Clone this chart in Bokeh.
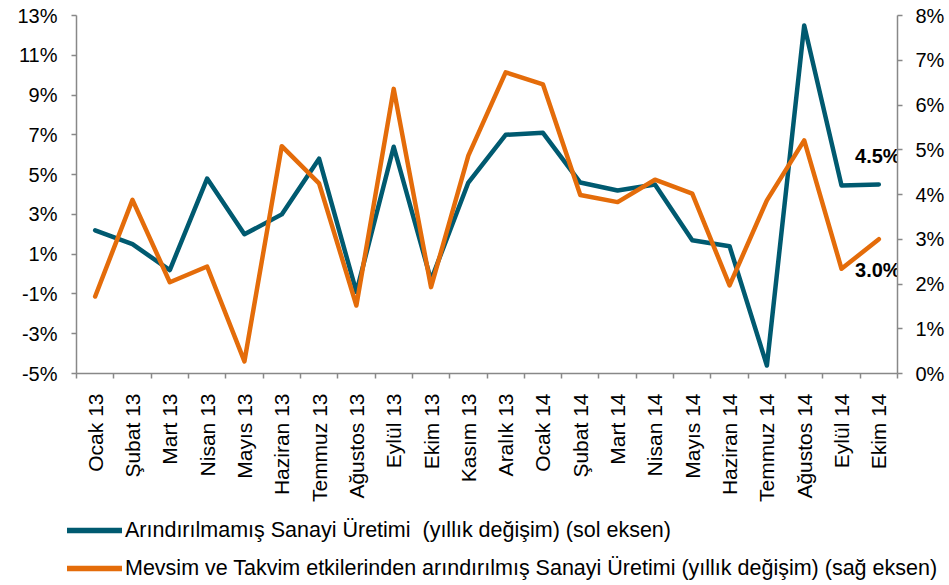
import math
from bokeh.plotting import figure
from bokeh.layouts import column
from bokeh.models import (Range1d, LinearAxis, FixedTicker, PrintfTickFormatter,
                          CustomJSTickFormatter, Legend, LegendItem)
from bokeh.core.properties import value
from bokeh.embed import file_html
from bokeh.resources import INLINE

months = ["Ocak 13", "Şubat 13", "Mart 13", "Nisan 13", "Mayıs 13", "Haziran 13",
          "Temmuz 13", "Ağustos 13", "Eylül 13", "Ekim 13", "Kasım 13", "Aralık 13",
          "Ocak 14", "Şubat 14", "Mart 14", "Nisan 14", "Mayıs 14", "Haziran 14",
          "Temmuz 14", "Ağustos 14", "Eylül 14", "Ekim 14"]

# Arındırılmamış Sanayi Üretimi (sol eksen, %)
unadjusted = [2.2, 1.5, 0.2, 4.8, 2.0, 3.0, 5.8, -0.9, 6.4, -0.3, 4.6, 7.0,
              7.1, 4.6, 4.2, 4.5, 1.7, 1.4, -4.6, 12.5, 4.45, 4.5]
# Mevsim ve takvim etkilerinden arındırılmış (sağ eksen, %)
adjusted = [1.72, 3.88, 2.04, 2.39, 0.27, 5.08, 4.25, 1.52, 6.36, 1.93, 4.87, 6.73,
            6.46, 3.99, 3.83, 4.33, 4.02, 1.97, 3.87, 5.21, 2.34, 3.0]

left_ticks = [-5, -3, -1, 1, 3, 5, 7, 9, 11, 13]
right_ticks = [0, 1, 2, 3, 4, 5, 6, 7, 8]

legend_labels = ["Arındırılmamış Sanayi Üretimi  (yıllık değişim) (sol eksen)",
                 "Mevsim ve Takvim etkilerinden arındırılmış Sanayi Üretimi (yıllık değişim) (sağ eksen)"]

BLUE = "#005a70"
ORANGE = "#e46c0a"
AXIS = "#888888"
FONT = "Liberation Sans"
LINE_W = 4.5

n = len(months)
xs = [i + 0.5 for i in range(n)]

# ---------------- main chart ----------------
p = figure(frame_width=821, frame_height=358, output_backend="svg", toolbar_location=None,
           x_range=Range1d(0, n), y_range=Range1d(left_ticks[0], left_ticks[-1]),
           min_border_left=76, min_border_right=52, min_border_top=15, min_border_bottom=127)
p.outline_line_color = None
p.xgrid.visible = False
p.ygrid.visible = False
p.background_fill_color = "white"
p.border_fill_color = "white"

p.extra_y_ranges = {"right": Range1d(right_ticks[0], right_ticks[-1])}

def style_y(ax, ticks, standoff):
    ax.ticker = FixedTicker(ticks=ticks)
    ax.formatter = PrintfTickFormatter(format="%d%%")
    ax.axis_line_color = AXIS
    ax.axis_line_width = 1.5
    ax.major_tick_line_color = AXIS
    ax.major_tick_line_width = 1.5
    ax.major_tick_out = 5
    ax.major_tick_in = 0
    ax.minor_tick_line_color = None
    ax.major_label_standoff = standoff
    ax.major_label_text_font = FONT
    ax.major_label_text_font_size = "20px"
    ax.major_label_text_color = "black"

style_y(p.yaxis[0], left_ticks, 14)
rax = LinearAxis(y_range_name="right")
style_y(rax, right_ticks, 13)
p.add_layout(rax, "right")

xa = p.xaxis[0]
xa.ticker = FixedTicker(ticks=xs, minor_ticks=list(range(n + 1)))
xa.formatter = CustomJSTickFormatter(args=dict(labels=months),
                                     code="return labels[Math.floor(tick)] || '';")
xa.axis_line_color = AXIS
xa.axis_line_width = 1.5
xa.major_tick_out = 0
xa.major_tick_in = 0
xa.major_tick_line_color = None
xa.minor_tick_out = 5
xa.minor_tick_in = 0
xa.minor_tick_line_color = AXIS
xa.minor_tick_line_width = 1.5
xa.major_label_orientation = math.pi / 2
xa.major_label_standoff = 15
xa.major_label_text_font = FONT
xa.major_label_text_font_size = "21px"
xa.major_label_text_color = "black"

p.line(xs, unadjusted, line_color=BLUE, line_width=LINE_W, line_join="round", line_cap="round")
p.line(xs, adjusted, line_color=ORANGE, line_width=LINE_W, line_join="round", line_cap="round",
       y_range_name="right")

p.text(x=[xs[-1]], y=[unadjusted[-1]], text=[f"{unadjusted[-1]:.1f}%"],
       text_font=value(FONT), text_font_style="bold", text_font_size="20px",
       text_align="center", text_baseline="middle", x_offset=-1, y_offset=-29,
       text_color="black")
p.text(x=[xs[-1]], y=[adjusted[-1]], text=[f"{adjusted[-1]:.1f}%"],
       text_font=value(FONT), text_font_style="bold", text_font_size="20px",
       text_align="center", text_baseline="middle", x_offset=-1, y_offset=31,
       text_color="black", y_range_name="right")

# ---------------- legend strip ----------------
# Same series drawn far outside this strip's visible range, so only legend swatches show.
lg = figure(frame_width=949, frame_height=79, output_backend="svg", toolbar_location=None,
            x_range=Range1d(0, n), y_range=Range1d(1000, 1001),
            min_border=0, min_border_left=0, min_border_right=0,
            min_border_top=0, min_border_bottom=0)
lg.outline_line_color = None
lg.axis.visible = False
lg.grid.visible = False
lg.background_fill_color = "white"
lg.border_fill_color = "white"

e1 = lg.line(xs, unadjusted, line_color=BLUE, line_width=5.5, line_cap="round")
e2 = lg.line(xs, adjusted, line_color=ORANGE, line_width=5.5, line_cap="round")

legend = Legend(items=[LegendItem(label=legend_labels[0], renderers=[e1]),
                       LegendItem(label=legend_labels[1], renderers=[e2])],
                location=(67, -3), orientation="vertical",
                glyph_width=55, glyph_height=38, label_height=38, spacing=0,
                padding=0, margin=0, label_standoff=3,
                border_line_color=None, background_fill_alpha=0,
                label_text_font=FONT, label_text_font_size="21.5px",
                label_text_color="black")
lg.add_layout(legend, "center")

layout = column(p, lg, spacing=0)
open("out.html", "w").write(file_html(layout, INLINE))
